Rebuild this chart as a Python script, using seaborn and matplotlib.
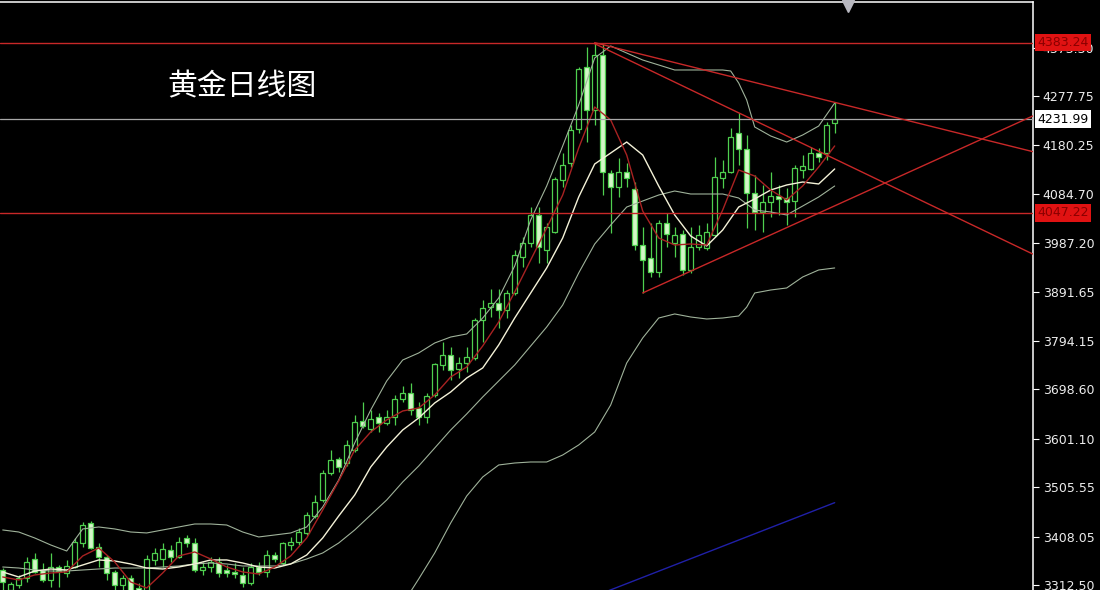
"""
Gold daily candlestick chart (黄金日线图) with MA5 / MA10 / Bollinger bands
and hand-drawn trend lines, MT4 style on a black background.
"""

import numpy as np
import pandas as pd
import matplotlib
matplotlib.use("Agg")
import matplotlib.pyplot as plt
import matplotlib.transforms as mtransforms
import seaborn as sns

# ---- daily OHLC (oldest first) ----
opens = [3342, 3303, 3312, 3326, 3364, 3342, 3322, 3348, 3336, 3348,
         3395, 3435, 3388, 3368, 3338, 3312, 3326, 3307, 3293, 3362,
         3364, 3382, 3368, 3405, 3395, 3342, 3348, 3358, 3342, 3338,
         3332, 3316, 3348, 3338, 3372, 3356, 3392, 3397, 3415, 3449,
         3480, 3534, 3561, 3553, 3579, 3636, 3620, 3644, 3632, 3644,
         3680, 3692, 3662, 3644, 3688, 3747, 3767, 3739, 3751, 3761,
         3836, 3861, 3869, 3855, 3889, 3960, 3988, 4043, 3974, 4009,
         4112, 4146, 4213, 4335, 4250, 4359, 4126, 4098, 4128, 4094,
         3984, 3958, 3930, 4027, 3988, 4005, 3934, 3980, 3978, 4003,
         4116, 4128, 4205, 4173, 4086, 4049, 4069, 4080, 4076, 4070,
         4132, 4134, 4165, 4165, 4225]
highs = [3346, 3318, 3332, 3368, 3376, 3356, 3376, 3352, 3362, 3405,
         3437, 3439, 3395, 3372, 3342, 3332, 3332, 3316, 3372, 3386,
         3395, 3392, 3407, 3411, 3405, 3358, 3368, 3368, 3352, 3356,
         3348, 3356, 3358, 3382, 3378, 3397, 3407, 3425, 3457, 3490,
         3540, 3579, 3565, 3599, 3648, 3674, 3658, 3652, 3658, 3688,
         3705, 3711, 3674, 3692, 3751, 3792, 3782, 3763, 3782, 3840,
         3875, 3897, 3897, 3895, 3974, 3999, 4059, 4059, 4027, 4118,
         4165, 4221, 4335, 4375, 4383.2, 4380, 4132, 4155, 4146, 4108,
         4019, 4027, 4033, 4047, 4019, 4013, 4019, 4023, 4027, 4157,
         4151, 4215, 4244, 4201, 4122, 4102, 4128, 4102, 4096, 4142,
         4161, 4177, 4175, 4226, 4266]
lows = [3303, 3293, 3307, 3318, 3336, 3318, 3309, 3309, 3328, 3346,
        3388, 3384, 3348, 3322, 3303, 3303, 3287, 3279, 3287, 3352,
        3348, 3358, 3366, 3388, 3338, 3332, 3338, 3328, 3328, 3326,
        3309, 3312, 3332, 3328, 3358, 3352, 3382, 3392, 3411, 3445,
        3476, 3530, 3536, 3547, 3575, 3622, 3615, 3615, 3628, 3628,
        3674, 3648, 3628, 3632, 3684, 3737, 3717, 3721, 3733, 3757,
        3792, 3841, 3820, 3840, 3885, 3940, 3980, 3948, 3948, 4007,
        4098, 4138, 4205, 4187, 4221, 4082, 4007, 4078, 4098, 3974,
        3889, 3920, 3920, 3980, 3960, 3924, 3928, 3974, 3974, 3999,
        4096, 4126, 4142, 4017, 4013, 4009, 4039, 4043, 4023, 4039,
        4116, 4132, 4147, 4151, 4205]
closes = [3318, 3314, 3326, 3358, 3338, 3322, 3348, 3340, 3350, 3397,
          3431, 3386, 3368, 3336, 3312, 3326, 3299, 3287, 3364, 3376,
          3384, 3368, 3397, 3395, 3342, 3348, 3358, 3336, 3336, 3334,
          3316, 3348, 3338, 3372, 3364, 3395, 3397, 3417, 3451, 3476,
          3534, 3559, 3545, 3589, 3634, 3626, 3640, 3632, 3644, 3680,
          3692, 3658, 3644, 3686, 3749, 3767, 3737, 3751, 3763, 3836,
          3859, 3869, 3855, 3889, 3964, 3988, 4043, 3980, 4019, 4114,
          4142, 4211, 4331, 4250, 4359, 4128, 4098, 4128, 4116, 3984,
          3954, 3930, 4027, 4005, 4003, 3934, 3980, 4003, 4009, 4118,
          4128, 4197, 4173, 4086, 4049, 4069, 4080, 4074, 4069, 4136,
          4140, 4165, 4157, 4221, 4231.99]

# ---- indicator lines at these bar positions ----
ma_days = [0, 2, 4, 6, 8, 10, 12, 14, 16, 18, 20, 22, 24, 26, 28, 30, 32, 34,
           36, 38, 40, 42, 44, 46, 48, 50, 52, 54, 56, 58, 60, 62, 64, 66, 68,
           70, 72, 74, 76, 78, 80, 82, 84, 86, 88, 90, 92, 94, 96, 98, 100,
           102, 104]
ma5 = [3328.3, 3322.4, 3332.3, 3336.2, 3338.2, 3369.8, 3385.6, 3357.9, 3318.4,
       3306.6, 3336.2, 3369.8, 3377.7, 3363.8, 3348.0, 3338.2, 3334.2, 3348.0,
       3369.8, 3405.3, 3460.6, 3517.8, 3579.0, 3614.5, 3638.2, 3656.0, 3661.9,
       3687.6, 3723.1, 3742.8, 3784.3, 3831.7, 3890.9, 3954.1, 4017.2, 4082.3,
       4175.1, 4256.0, 4230.4, 4161.3, 4050.8, 3997.5, 3983.6, 3985.6, 3983.6,
       4052.7, 4131.7, 4119.8, 4092.2, 4072.5, 4100.1, 4137.6, 4179.1]
ma10 = [3338.2, 3328.3, 3340.1, 3344.1, 3342.1, 3352.0, 3361.9, 3359.9, 3354.0,
        3346.0, 3344.1, 3348.0, 3354.0, 3361.9, 3361.9, 3355.9, 3348.0, 3346.0,
        3354.0, 3371.7, 3405.3, 3448.7, 3490.2, 3545.4, 3584.9, 3618.5, 3642.2,
        3671.8, 3693.5, 3721.1, 3740.9, 3786.3, 3839.5, 3888.9, 3938.3, 3997.5,
        4078.4, 4143.5, 4165.2, 4186.9, 4161.3, 4100.1, 4042.9, 4001.4, 3981.7,
        4013.2, 4058.6, 4074.5, 4092.2, 4102.1, 4108.0, 4104.1, 4133.7]
boll_mid = [3348.0, 3346.0, 3342.1, 3340.1, 3340.1, 3342.1, 3344.1, 3346.0,
            3346.0, 3346.0, 3348.0, 3350.0, 3354.0, 3355.9, 3354.0, 3350.0,
            3350.0, 3350.0, 3354.0, 3363.8, 3375.7, 3395.4, 3421.1, 3450.7,
            3480.3, 3515.8, 3547.4, 3582.9, 3618.5, 3650.1, 3683.6, 3715.2,
            3746.8, 3784.3, 3821.8, 3865.2, 3928.4, 3985.6, 4023.1, 4058.6,
            4070.5, 4082.3, 4090.2, 4084.3, 4084.3, 4084.3, 4076.4, 4052.7,
            4048.8, 4042.9, 4060.6, 4078.4, 4100.1]
band_days = [0, 2, 4, 6, 8, 10, 12, 14, 16, 18, 20, 22, 24, 26, 28, 30, 32, 34,
             36, 38, 40, 42, 44, 46, 48, 50, 52, 54, 56, 58, 60, 62, 64, 66, 68,
             70, 72, 74, 76, 78, 80, 82, 84, 86, 88, 90, 91, 92, 93, 94, 96, 98,
             100, 102, 104]
boll_up = [3421.1, 3417.1, 3405.3, 3391.5, 3379.6, 3423.1, 3427.0, 3423.1,
           3417.1, 3415.2, 3421.1, 3427.0, 3432.9, 3432.9, 3430.9, 3417.1,
           3407.3, 3411.2, 3415.2, 3427.0, 3466.5, 3519.8, 3592.8, 3657.9,
           3715.2, 3756.6, 3770.5, 3790.2, 3802.0, 3808.0, 3839.5, 3879.0,
           3942.2, 4033.0, 4100.1, 4179.1, 4260.0, 4352.8, 4376.5, 4362.6,
           4348.8, 4339.0, 4329.1, 4329.1, 4329.1, 4329.1, 4327.1, 4303.4,
           4269.9, 4216.6, 4198.8, 4186.9, 4200.8, 4218.5, 4263.9]
boll_low = [3275.0, 3275.0, 3279.0, 3288.8, 3300.7, 3261.2, 3261.2, 3269.1,
            3275.0, 3277.0, 3275.0, 3273.0, 3275.0, 3279.0, 3281.0, 3290.8,
            3296.7, 3288.8, 3292.8, 3300.7, 3284.9, 3271.1, 3249.4, 3243.4,
            3245.4, 3275.0, 3324.4, 3375.7, 3434.9, 3488.2, 3525.7, 3549.4,
            3553.3, 3555.3, 3555.3, 3569.1, 3588.9, 3614.5, 3667.8, 3750.7,
            3800.1, 3839.5, 3847.5, 3841.5, 3837.6, 3839.5, 3841.5, 3843.5,
            3861.0, 3888.9, 3894.8, 3898.8, 3920.5, 3934.3, 3938.3]

# ---- drawn levels and trend lines ----
level_high = 4383.24
level_low = 4047.22
last_price = 4231.99
trend_days = [(74, 129), (74, 129), (80, 129)]
trend_prices = [(4383, 4167), (4381, 3964), (3889, 4240)]
channel_days = (70, 104)
channel_prices = (3266, 3475)

tick_values = [3312.50, 3408.05, 3505.55, 3601.10, 3698.60, 3794.15,
               3891.65, 3987.20, 4084.70, 4180.25, 4277.75, 4373.30]
title_text = "黄金日线图"

# ---- style ----
sns.set_theme(style="dark", rc={"axes.facecolor": "black",
                                "figure.facecolor": "black",
                                "savefig.facecolor": "black"})
plt.rcParams["font.family"] = ["DejaVu Sans", "Noto Sans CJK SC"]

GREEN = "#4fcf4f"
PALE = "#d4f6c8"
RED_LINE = "#c82828"
MA5_C = "#a82222"
MA10_C = "#f4f2d8"
BAND_C = "#9fb29a"

df = pd.DataFrame({"open": opens, "high": highs, "low": lows, "close": closes})
df["day"] = np.arange(len(df))
df["bull"] = df["close"] >= df["open"]
df["body_lo"] = df[["open", "close"]].min(axis=1)
df["body_h"] = (df["close"] - df["open"]).abs().clip(lower=1.6)

fig = plt.figure(figsize=(11, 5.9), dpi=100)
ax = fig.add_axes([0, 0, 1033 / 1100, 588 / 590])
ax.set_facecolor("black")

# candles
ax.vlines(df["day"], df["low"], df["high"], color=GREEN, lw=0.9, zorder=2)
bull = df[df["bull"]]
bear = df[~df["bull"]]
ax.bar(bull["day"], bull["body_h"], bottom=bull["body_lo"], width=0.62,
       facecolor="black", edgecolor=GREEN, linewidth=0.9, zorder=3)
ax.bar(bear["day"], bear["body_h"], bottom=bear["body_lo"], width=0.62,
       facecolor=PALE, edgecolor=GREEN, linewidth=0.9, zorder=3)

# indicators
sns.lineplot(x=band_days, y=boll_up, ax=ax, color=BAND_C, lw=0.8, zorder=4)
sns.lineplot(x=band_days, y=boll_low, ax=ax, color=BAND_C, lw=0.8, zorder=4)
sns.lineplot(x=ma_days, y=boll_mid, ax=ax, color=BAND_C, lw=0.8, zorder=4)
sns.lineplot(x=ma_days, y=ma10, ax=ax, color=MA10_C, lw=1.0, zorder=5)
sns.lineplot(x=ma_days, y=ma5, ax=ax, color=MA5_C, lw=1.0, zorder=5)

# levels / trend lines
ax.axhline(level_high, color=RED_LINE, lw=1.0, zorder=6)
ax.axhline(level_low, color=RED_LINE, lw=1.0, zorder=6)
ax.axhline(last_price, color="#a8a8a8", lw=0.9, zorder=6)
for days, prices in zip(trend_days, trend_prices):
    ax.plot(days, prices, color=RED_LINE, lw=1.0, zorder=6)
ax.plot(channel_days, channel_prices, color="#2020a8", lw=1.0, zorder=6)

ax.set_xlim(-0.34, 128.79)
ax.set_ylim(3302.6, 4463.3)
ax.set_xlabel("")
ax.set_ylabel("")
ax.set_xticks([])
ax.grid(False)

# right price axis
ax.yaxis.tick_right()
ax.set_yticks(tick_values)
ax.set_yticklabels([f"{v:.2f}" for v in tick_values])
ax.tick_params(axis="y", colors="white", labelcolor="#ececec", labelsize=9,
               length=4, width=0.8, direction="out", pad=3)
for side in ["left", "bottom"]:
    ax.spines[side].set_visible(False)
for side in ["right", "top"]:
    ax.spines[side].set_visible(True)
    ax.spines[side].set_color("white")
    ax.spines[side].set_linewidth(1.1)

trans = mtransforms.blended_transform_factory(ax.transAxes, ax.transData)
for price, fc, tc in [(level_high, "#e01212", "#8a0000"),
                      (level_low, "#e01212", "#8a0000"),
                      (last_price, "white", "black")]:
    ax.text(1.0045, price, f"{price:.2f}", transform=trans, ha="left",
            va="center", fontsize=9, color=tc, zorder=10, clip_on=False,
            bbox=dict(boxstyle="square,pad=0.18", fc=fc, ec="none"))

# small marker at the top edge
ax.plot([0.821], [0.994], marker="v", color="#b8b8c0", markersize=8,
        transform=ax.transAxes, clip_on=False, zorder=10)

fig.text(0.152, 0.8525, title_text, fontsize=21.5, color="white",
         family=["Noto Sans CJK SC", "DejaVu Sans"], ha="left", va="center")

fig.savefig("out.png", dpi=100, facecolor="black")
